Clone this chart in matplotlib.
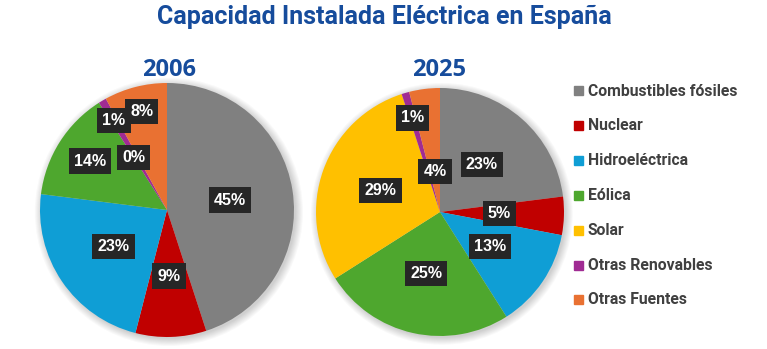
import numpy as np
import matplotlib.pyplot as plt
from matplotlib.patches import Circle

categorias = ["Combustibles fósiles", "Nuclear", "Hidroeléctrica", "Eólica",
              "Solar", "Otras Renovables", "Otras Fuentes"]
valores_2006 = [45, 9, 23, 14, 0, 1, 8]
valores_2025 = [23, 5, 13, 25, 29, 1, 4]

colores = ["#808080", "#C00000", "#0F9ED5", "#4EA72E", "#FFC000", "#A02B93", "#E97132"]
azul = "#164C9C"

W, H = 767, 349
fig = plt.figure(figsize=(W / 100, H / 100), dpi=100)
fig.patch.set_facecolor("white")


def eje(cx, cy, r):
    # axes placed from pixel centre/radius so the pie is exactly r px
    return fig.add_axes([(cx - r) / W, (H - cy - r) / H, 2 * r / W, 2 * r / H])


def tarta(ax, valores, anio, xa, dist):
    # soft shadow around the disc
    for k in range(8):
        ax.add_patch(Circle((0.015, -0.015), 1.0 + 0.008 * k, color="black",
                            alpha=0.025, lw=0, zorder=0, clip_on=False))
    wedges, _ = ax.pie(valores, colors=colores, startangle=90, counterclock=False,
                       radius=1.0, wedgeprops=dict(linewidth=0))
    for w in wedges:
        w.set_zorder(2)
    for w, v, d in zip(wedges, valores, dist):
        ang = np.deg2rad((w.theta1 + w.theta2) / 2)
        ax.text(d * np.cos(ang), d * np.sin(ang), f"{v}%", ha="center", va="center",
                color="white", fontsize=11.5, fontweight="bold", family="Liberation Sans",
                zorder=5,
                bbox=dict(boxstyle="square,pad=0.32", fc="#262626", ec="none"))
    ax.set_xlim(-1, 1)
    ax.set_ylim(-1, 1)
    ax.set_aspect("equal")
    ax.axis("off")
    fig.text(xa / W, 1 - 70 / H, anio, ha="center", va="center", color=azul,
             fontsize=17, fontweight="bold", family="Open Sans")


ax1 = eje(167, 210, 127)
tarta(ax1, valores_2006, "2006", 169, [0.5, 0.52, 0.51, 0.72, 0.49, 0.82, 0.8])

ax2 = eje(440, 212, 124)
tarta(ax2, valores_2025, "2025", 439, [0.51, 0.48, 0.49, 0.51, 0.51, 0.79, 0.33])

fig.text(384 / W, 1 - 17 / H, "Capacidad Instalada Eléctrica en España", ha="center",
         va="center", color=azul, fontsize=18, fontweight="bold", family="Roboto")

# legend drawn by hand
for i, (c, nombre) in enumerate(zip(colores, categorias)):
    y = 1 - (91 + 34.8 * i) / H
    fig.patches.append(plt.Rectangle((574 / W, y - 4.5 / H), 9 / W, 9 / H, color=c,
                                     transform=fig.transFigure, figure=fig))
    fig.text(588 / W, y, nombre, ha="left", va="center", color="#404040",
             fontsize=11.3, fontweight="bold", family="Roboto")

fig.savefig("out.png", dpi=100)
